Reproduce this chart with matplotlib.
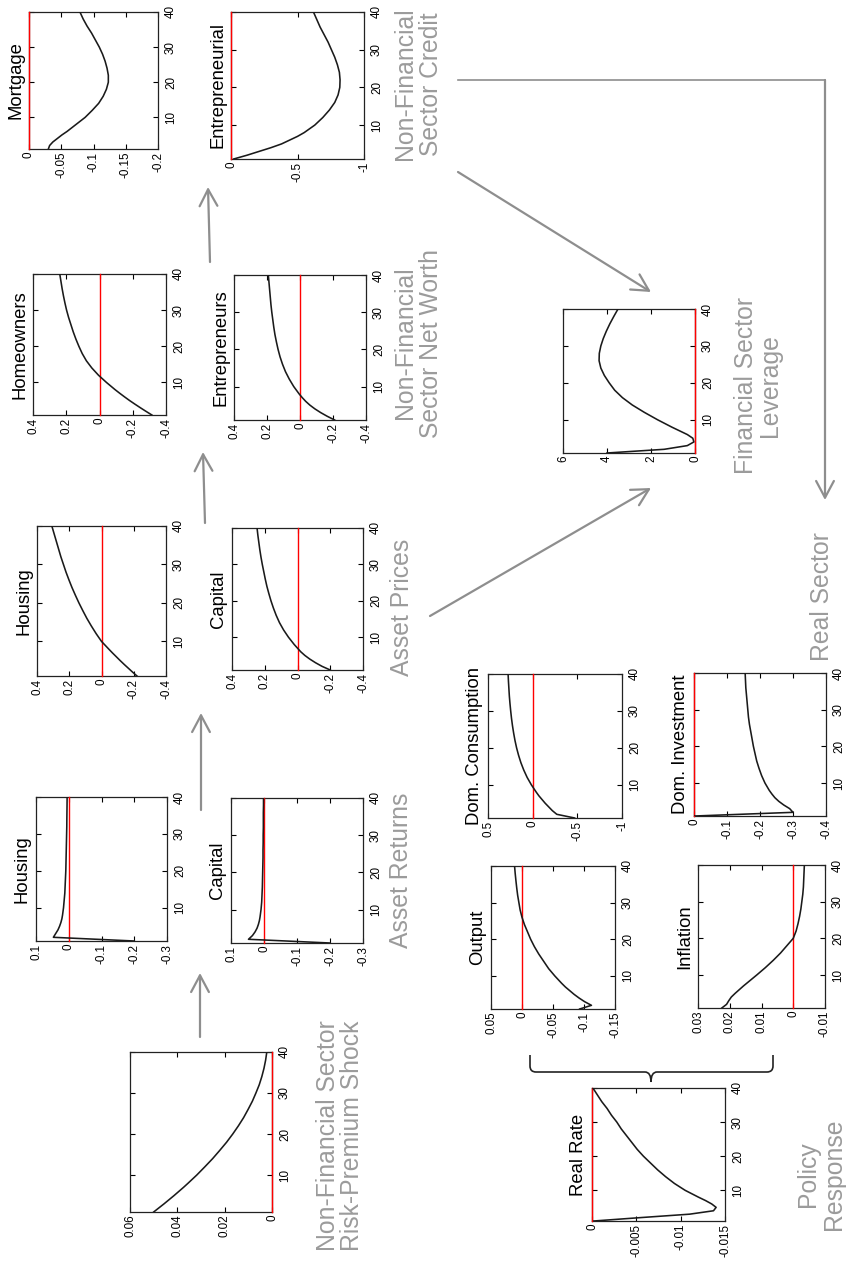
import matplotlib
matplotlib.use('Agg')
import matplotlib.pyplot as plt
from matplotlib.transforms import Affine2D
from matplotlib.patches import FancyArrowPatch, PathPatch
from matplotlib.path import Path
from matplotlib.lines import Line2D

W, H = 846, 1262

# quarters after the shock
t = [1, 2, 3, 4, 5, 6, 7, 8, 10, 12, 14, 16, 18, 20, 22, 24, 26, 28, 30, 32, 34, 36, 38, 40]

shock = [0.0500, 0.0478, 0.0456, 0.0435, 0.0414, 0.0394, 0.0374, 0.0355, 0.0318, 0.0284, 0.0251, 0.0221,
         0.0192, 0.0166, 0.0142, 0.0120, 0.0101, 0.0083, 0.0068, 0.0054, 0.0043, 0.0034, 0.0027, 0.0022]
ret_housing = [-0.20, 0.047, 0.040, 0.033, 0.028, 0.024, 0.021, 0.019, 0.016, 0.014, 0.012, 0.011,
               0.010, 0.009, 0.0085, 0.008, 0.0075, 0.007, 0.0065, 0.006, 0.0058, 0.0055, 0.0052, 0.005]
ret_capital = [-0.20, 0.047, 0.035, 0.027, 0.021, 0.017, 0.014, 0.012, 0.009, 0.007, 0.006, 0.005,
               0.0045, 0.004, 0.0035, 0.003, 0.003, 0.0025, 0.0025, 0.002, 0.002, 0.002, 0.0015, 0.0015]
price_housing = [-0.22, -0.193, -0.167, -0.141, -0.116, -0.092, -0.068, -0.045, 0.0, 0.033, 0.063, 0.091,
                 0.116, 0.14, 0.162, 0.183, 0.202, 0.22, 0.236, 0.252, 0.266, 0.28, 0.294, 0.308]
price_capital = [-0.20, -0.15, -0.11, -0.075, -0.045, -0.02, 0.0, 0.02, 0.055, 0.085, 0.11, 0.13,
                 0.147, 0.162, 0.175, 0.187, 0.197, 0.206, 0.215, 0.223, 0.23, 0.236, 0.242, 0.247]
nw_home = [-0.315, -0.28, -0.246, -0.213, -0.181, -0.151, -0.122, -0.094, -0.042, 0.006, 0.046, 0.079,
           0.104, 0.124, 0.142, 0.158, 0.172, 0.186, 0.198, 0.208, 0.217, 0.225, 0.232, 0.239]
nw_entre = [-0.21, -0.165, -0.125, -0.09, -0.06, -0.035, -0.014, 0.005, 0.038, 0.065, 0.088, 0.106,
            0.121, 0.133, 0.143, 0.152, 0.159, 0.165, 0.171, 0.176, 0.18, 0.184, 0.188, 0.192]
credit_mort = [-0.030, -0.032, -0.037, -0.044, -0.051, -0.059, -0.066, -0.073, -0.087, -0.098, -0.108, -0.115,
               -0.120, -0.123, -0.123, -0.121, -0.118, -0.114, -0.109, -0.103, -0.097, -0.090, -0.084, -0.079]
credit_entre = [-0.02, -0.12, -0.21, -0.30, -0.38, -0.44, -0.50, -0.55, -0.63, -0.69, -0.74, -0.78,
                -0.805, -0.818, -0.82, -0.815, -0.80, -0.78, -0.755, -0.73, -0.70, -0.67, -0.645, -0.62]
leverage = [4.0, 1.4, 0.35, 0.05, 0.1, 0.35, 0.7, 1.05, 1.7, 2.3, 2.85, 3.3,
            3.65, 3.9, 4.12, 4.28, 4.36, 4.35, 4.28, 4.17, 4.03, 3.87, 3.69, 3.5]
output = [-0.093, -0.112, -0.101, -0.092, -0.084, -0.077, -0.070, -0.064, -0.053, -0.043, -0.035, -0.027,
          -0.020, -0.014, -0.009, -0.004, 0.0, 0.003, 0.005, 0.007, 0.0085, 0.0098, 0.011, 0.012]
inflation = [0.0225, 0.021, 0.0203, 0.0195, 0.0183, 0.017, 0.0157, 0.0143, 0.0115, 0.0088, 0.0063, 0.004,
             0.002, 0.0, -0.0009, -0.0015, -0.002, -0.0024, -0.0027, -0.003, -0.0032, -0.0033, -0.0034, -0.0035]
real_rate = [-0.0002, -0.0055, -0.011, -0.0137, -0.014, -0.0135, -0.0128, -0.0120, -0.0105, -0.0093, -0.0083, -0.0074,
             -0.0066, -0.0058, -0.0051, -0.0045, -0.0039, -0.0033, -0.0028, -0.0022, -0.0017, -0.0011, -0.0006, -0.0001]
consumption = [-0.47, -0.27, -0.22, -0.18, -0.14, -0.105, -0.07, -0.04, 0.015, 0.062, 0.10, 0.132,
               0.158, 0.18, 0.198, 0.213, 0.226, 0.237, 0.246, 0.254, 0.261, 0.266, 0.271, 0.275]
investment = [-0.002, -0.30, -0.29, -0.272, -0.257, -0.245, -0.236, -0.228, -0.215, -0.205, -0.197, -0.19,
              -0.185, -0.18, -0.176, -0.172, -0.168, -0.165, -0.163, -0.161, -0.159, -0.157, -0.156, -0.155]

time_ticks = [10, 20, 30, 40]

plt.rcParams['font.family'] = ['Liberation Sans', 'DejaVu Sans']
plt.rcParams['axes.unicode_minus'] = False

fig = plt.figure(figsize=(W / 100, H / 100), dpi=100)
# pixel coordinates of the page (origin top left) -> figure
to_fig = Affine2D().scale(1 / W, -1 / H).translate(0, 1) + fig.transFigure

GREY_TXT = '#9b9b9b'
GREY_ARR = '#8e8e8e'

# (title, values, value range, value ticks, box left/top/right/bottom in px)
panels = [
    ('', shock, (0, 0.06), [0, 0.02, 0.04, 0.06], (130, 1052, 272, 1212)),
    ('Housing', ret_housing, (-0.3, 0.1), [-0.3, -0.2, -0.1, 0, 0.1], (36, 797, 167, 941)),
    ('Capital', ret_capital, (-0.3, 0.1), [-0.3, -0.2, -0.1, 0, 0.1], (231, 798, 363, 943)),
    ('Housing', price_housing, (-0.4, 0.4), [-0.4, -0.2, 0, 0.2, 0.4], (37, 526, 166, 676)),
    ('Capital', price_capital, (-0.4, 0.4), [-0.4, -0.2, 0, 0.2, 0.4], (232, 528, 363, 670)),
    ('Homeowners', nw_home, (-0.4, 0.4), [-0.4, -0.2, 0, 0.2, 0.4], (33, 274, 166, 415)),
    ('Entrepreneurs', nw_entre, (-0.4, 0.4), [-0.4, -0.2, 0, 0.2, 0.4], (234, 275, 366, 420)),
    ('Mortgage', credit_mort, (-0.2, 0), [-0.2, -0.15, -0.1, -0.05, 0], (29, 12, 158, 149)),
    ('Entrepreneurial', credit_entre, (-1, 0), [-1, -0.5, 0], (231, 12, 364, 159)),
    ('', leverage, (0, 6), [0, 2, 4, 6], (563, 309, 695, 453)),
    ('Output', output, (-0.15, 0.05), [-0.15, -0.1, -0.05, 0, 0.05], (491, 866, 615, 1009)),
    ('Inflation', inflation, (-0.01, 0.03), [-0.01, 0, 0.01, 0.02, 0.03], (698, 865, 825, 1008)),
    ('Real Rate', real_rate, (-0.015, 0), [-0.015, -0.01, -0.005, 0], (592, 1088, 725, 1221)),
    ('Dom. Consumption', consumption, (-1, 0.5), [-1, -0.5, 0, 0.5], (488, 674, 622, 818)),
    ('Dom. Investment', investment, (-0.4, 0), [-0.4, -0.3, -0.2, -0.1, 0], (694, 673, 826, 816)),
]

for title, vals, (lo, hi), ticks, (l, tp, r, b) in panels:
    ax = fig.add_axes([l / W, 1 - b / H, (r - l) / W, (b - tp) / H])
    ax.axvline(0, color='red', lw=1.0, clip_on=False, zorder=2.6)
    ax.plot(vals, t, color='#1a1a1a', lw=1.15, zorder=3)
    ax.set_xlim(hi, lo)
    ax.set_ylim(1, 40)
    ax.set_xticks(ticks)
    ax.set_xticklabels(['%g' % v for v in ticks], rotation=90, fontsize=8.4)
    ax.set_yticks(time_ticks)
    ax.set_yticklabels([str(v) for v in time_ticks], rotation=90, va='center', fontsize=8.4)
    ax.tick_params(direction='in', length=3.5, width=0.8, top=True, bottom=True,
                   left=True, right=True, labelleft=False, labelright=True)
    ax.tick_params(axis='x', pad=2)
    ax.tick_params(axis='y', pad=5)
    for sp in ax.spines.values():
        sp.set_linewidth(0.9)
        sp.set_color('#222222')
    if title:
        ax.text(-5 / (r - l), 0.5, title, transform=ax.transAxes, rotation=90,
                ha='right', va='center', fontsize=13.3)

# group captions (centre in px)
captions = [
    ('Non-Financial Sector\nRisk-Premium Shock', 340, 1136, 1.05),
    ('Asset Returns', 401, 870, 1.1),
    ('Asset Prices', 402, 607, 1.1),
    ('Non-Financial\nSector Net Worth', 418, 343, 1.15),
    ('Non-Financial\nSector Credit', 418, 84, 1.15),
    ('Financial Sector\nLeverage', 758, 386, 1.05),
    ('Real Sector', 822, 597, 1.1),
    ('Policy\nResponse', 821, 1174, 1.15),
]
for text, cx, cy, ls in captions:
    fig.text(cx / W, 1 - cy / H, text, rotation=90, ha='center', va='center',
             fontsize=17.8, color=GREY_TXT, linespacing=ls)


def arrow(x0, y0, x1, y1):
    fig.add_artist(FancyArrowPatch((x0, y0), (x1, y1), transform=to_fig,
                                   arrowstyle='->,head_length=0.6,head_width=0.32',
                                   mutation_scale=20, lw=1.6, color=GREY_ARR,
                                   shrinkA=0, shrinkB=0))


arrow(200, 1037, 200, 973)
arrow(201, 810, 201, 713)
arrow(205, 523, 203, 452)
arrow(210, 262, 208, 187)
arrow(458, 172, 651, 292)
arrow(430, 616, 651, 488)
fig.add_artist(Line2D([458, 825], [80, 80], transform=to_fig, color=GREY_ARR, lw=1.2))
arrow(825, 80, 825, 500)

# curly brace joining Output / Inflation to the real rate
x0, x1, xm = 530, 773, 651
ytop, yline, ytip, rr = 1055, 1072, 1082, 6
verts = [(x0, ytop), (x0, yline - rr), (x0, yline), (x0 + rr, yline),
         (xm - rr, yline), (xm, yline), (xm, ytip),
         (xm, yline), (xm + rr, yline),
         (x1 - rr, yline), (x1, yline), (x1, yline - rr), (x1, ytop)]
codes = [Path.MOVETO, Path.LINETO, Path.CURVE3, Path.CURVE3,
         Path.LINETO, Path.CURVE3, Path.CURVE3,
         Path.CURVE3, Path.CURVE3,
         Path.LINETO, Path.CURVE3, Path.CURVE3, Path.LINETO]
fig.add_artist(PathPatch(Path(verts, codes), transform=to_fig, fill=False,
                         lw=1.2, edgecolor='#222222'))

fig.savefig('out.png', dpi=100)
